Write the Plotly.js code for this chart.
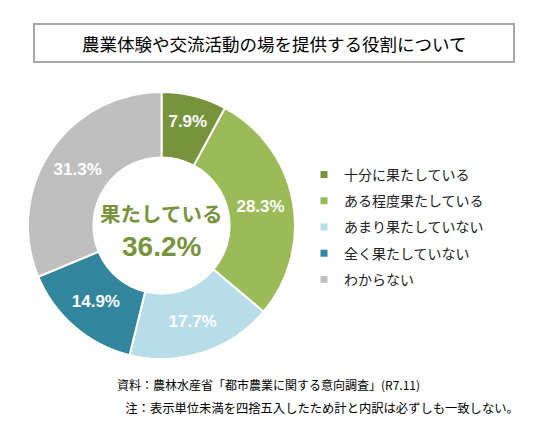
<!DOCTYPE html>
<html><head><meta charset="utf-8">
<script src="https://cdn.plot.ly/plotly-3.0.1.min.js"></script>
<style>html,body{margin:0;padding:0;background:#fff;}#chart{width:534px;height:425px;}</style>
</head><body><div id="chart"></div>
<script>
const categories = ["十分に果たしている","ある程度果たしている","あまり果たしていない","全く果たしていない","わからない"];
const values = [7.9, 28.3, 17.7, 14.9, 31.3];
const colors = ["#77933C","#9BBB59","#B7DEE8","#31859C","#BFBFBF"];
const titleText = "農業体験や交流活動の場を提供する役割について";
const centerLabel = "果たしている";
const centerValue = 36.2;
const noteLines = ["資料：農林水産省「都市農業に関する意向調査」(R7.11)", "　注：表示単位未満を四捨五入したため計と内訳は必ずしも一致しない。"];

const W = 534, H = 425;
const px = x => x / W, py = y => 1 - y / H;
const JP = '"Noto Sans CJK JP", sans-serif';

const traces = [{
  type: 'pie', values: values, labels: categories, sort: false, direction: 'clockwise', rotation: 0,
  hole: 0.51, marker: {colors: colors, line: {color: '#ffffff', width: 2}},
  texttemplate: '%{value:.1f}%', textposition: 'inside', insidetextorientation: 'horizontal',
  textfont: {family: '"Liberation Sans", Arial, sans-serif', size: 17, color: '#ffffff', weight: 'bold'},
  showlegend: false, hoverinfo: 'none',
  domain: {x: [px(27), px(296)], y: [py(359), py(92)]}
}];
categories.forEach((c, i) => {
  traces.push({type: 'scatter', mode: 'markers', x: [null], y: [null], name: c, legendgroup: 'g' + i,
    marker: {symbol: 'square', size: 7, color: colors[i]}, showlegend: true, hoverinfo: 'none'});
});

const layout = {
  width: W, height: H, margin: {l: 0, r: 0, t: 0, b: 0},
  paper_bgcolor: '#ffffff', plot_bgcolor: '#ffffff',
  xaxis: {visible: false}, yaxis: {visible: false},
  showlegend: true,
  legend: {x: px(304), y: py(159), xanchor: 'left', yanchor: 'top', tracegroupgap: 5,
    font: {family: JP, size: 14, color: '#222222'}, itemwidth: 30, bgcolor: 'rgba(0,0,0,0)'},
  shapes: [{type: 'rect', xref: 'paper', yref: 'paper', x0: px(34), x1: px(514), y0: py(62), y1: py(24),
    line: {color: '#A6A6A6', width: 2}, fillcolor: 'rgba(0,0,0,0)'}],
  annotations: [
    {xref: 'paper', yref: 'paper', x: px(274), y: py(43), text: titleText, showarrow: false,
     font: {family: JP, size: 17.5, color: '#000000'}, xanchor: 'center', yanchor: 'middle'},
    {xref: 'paper', yref: 'paper', x: px(161), y: py(213), text: centerLabel, showarrow: false,
     font: {family: JP, size: 20.5, color: '#77933C', weight: 'bold'}, xanchor: 'center', yanchor: 'middle'},
    {xref: 'paper', yref: 'paper', x: px(161), y: py(246), text: centerValue.toFixed(1) + '%', showarrow: false,
     font: {family: '"Liberation Sans", Arial, sans-serif', size: 28, color: '#77933C', weight: 'bold'}, xanchor: 'center', yanchor: 'middle'},
    {xref: 'paper', yref: 'paper', x: px(115), y: py(384), text: noteLines[0], showarrow: false,
     font: {family: JP, size: 12, color: '#000000'}, xanchor: 'left', yanchor: 'middle'},
    {xref: 'paper', yref: 'paper', x: px(111), y: py(408), text: noteLines[1], showarrow: false,
     font: {family: JP, size: 12.3, color: '#000000'}, xanchor: 'left', yanchor: 'middle'}
  ]
};
Plotly.newPlot('chart', traces, layout, {displayModeBar: false, staticPlot: true});
</script></body></html>
